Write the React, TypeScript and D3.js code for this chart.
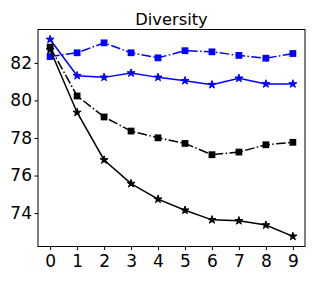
import * as d3 from 'd3'
import { useEffect, useRef } from 'react'

const steps = [0, 1, 2, 3, 4, 5, 6, 7, 8, 9]
const yTicks = [74, 76, 78, 80, 82]
const title = 'Diversity'

const blueSquare = [82.34, 82.54, 83.07, 82.54, 82.27, 82.65, 82.59, 82.4, 82.25, 82.5]
const blueStar = [83.25, 81.32, 81.23, 81.46, 81.23, 81.05, 80.84, 81.18, 80.88, 80.88]
const blackSquare = [82.84, 80.24, 79.12, 78.37, 78.01, 77.71, 77.11, 77.25, 77.64, 77.77]
const blackStar = [82.7, 79.36, 76.83, 75.57, 74.74, 74.15, 73.64, 73.59, 73.36, 72.76]

const series = [
    { values: blueSquare, color: '#0000ff', marker: 'square', dashed: true },
    { values: blueStar, color: '#0000ff', marker: 'star', dashed: false },
    { values: blackSquare, color: '#000000', marker: 'square', dashed: true },
    { values: blackStar, color: '#000000', marker: 'star', dashed: false },
]

const App = () => {
    const ref = useRef<SVGSVGElement>(null)

    useEffect(() => {
        const svg = d3.select(ref.current)
        svg.selectAll('*').remove()

        const margin = { left: 38, right: 305, top: 29.5, bottom: 246.5 }
        const font = 'DejaVu Sans, sans-serif'

        const x = d3.scaleLinear().domain([-0.45, 9.45]).range([margin.left, margin.right])
        const y = d3.scaleLinear().domain([72.22, 83.78]).range([margin.bottom, margin.top])

        // lines
        const line = d3.line<number>()
            .x((d, i) => x(steps[i]))
            .y(d => y(d))

        series.forEach(s => {
            svg.append('path')
                .datum(s.values)
                .attr('fill', 'none')
                .attr('stroke', s.color)
                .attr('stroke-width', 1.5)
                .attr('stroke-dasharray', s.dashed ? '9.6,2.4,1.5,2.4' : null)
                .attr('d', line)

            const sym = d3.symbol()
                .type(s.marker === 'square' ? d3.symbolSquare : d3.symbolStar)
                .size(s.marker === 'square' ? 46 : 20)

            svg.append('g')
                .selectAll('path')
                .data(s.values)
                .join('path')
                    .attr('transform', (d, i) => `translate(${x(steps[i])},${y(d)})`)
                    .attr('d', sym)
                    .attr('fill', s.color)
                    .attr('stroke', s.color)
                    .attr('stroke-width', s.marker === 'star' ? 1 : 0)
        })

        // frame
        svg.append('rect')
            .attr('x', margin.left)
            .attr('y', margin.top)
            .attr('width', margin.right - margin.left)
            .attr('height', margin.bottom - margin.top)
            .attr('fill', 'none')
            .attr('stroke', '#000')
            .attr('stroke-width', 1)

        // x axis
        const xAxis = svg.append('g')
            .attr('transform', `translate(0,${margin.bottom})`)
            .call(d3.axisBottom(x).tickValues(steps).tickFormat(d3.format('d')).tickSize(3.5).tickPadding(5))
        xAxis.select('.domain').remove()
        xAxis.selectAll('text').attr('font-size', 17).attr('font-family', font).attr('fill', '#000')

        // y axis
        const yAxis = svg.append('g')
            .attr('transform', `translate(${margin.left},0)`)
            .call(d3.axisLeft(y).tickValues(yTicks).tickSize(3.5).tickPadding(2.5))
        yAxis.select('.domain').remove()
        yAxis.selectAll('text').attr('font-size', 17).attr('font-family', font).attr('fill', '#000')

        svg.append('text')
            .attr('x', (margin.left + margin.right) / 2)
            .attr('y', 25)
            .attr('text-anchor', 'middle')
            .attr('font-size', 16.3)
            .attr('font-family', font)
            .text(title)
    }, [])

    return (
        <svg ref={ref} width={316} height={281}
            style={{ position: 'absolute', left: 0, top: 0, background: '#fff' }} />
    )
}

export default App
